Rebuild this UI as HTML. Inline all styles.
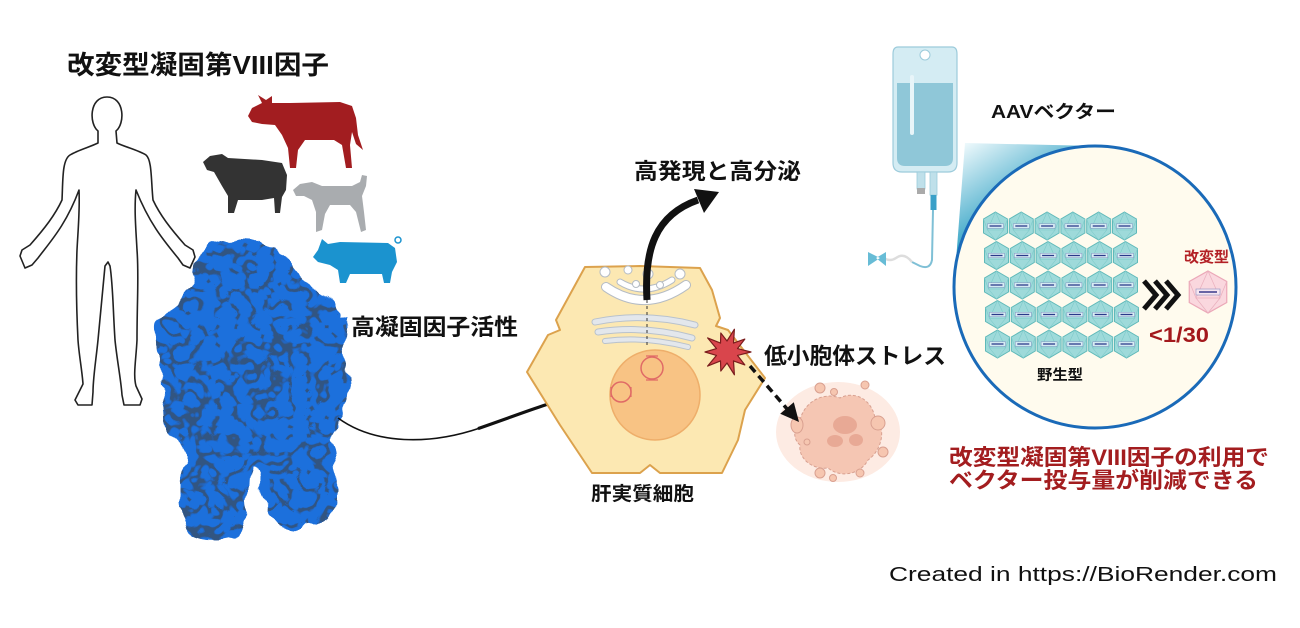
<!DOCTYPE html>
<html><head><meta charset="utf-8">
<style>
html,body{margin:0;padding:0;background:#fff;}
svg{display:block;}
.j{font-family:"Liberation Sans","Noto Sans CJK JP",sans-serif;font-weight:700;}
.r{font-family:"Liberation Sans","Noto Sans CJK JP",sans-serif;font-weight:400;}
</style></head><body>
<svg width="1300" height="628" viewBox="0 0 1300 628" xmlns="http://www.w3.org/2000/svg">
<defs>
  <filter id="prot" x="-15%" y="-15%" width="130%" height="130%">
    <feTurbulence type="fractalNoise" baseFrequency="0.05" numOctaves="2" seed="5" result="n"/>
    <feDisplacementMap in="SourceGraphic" in2="n" scale="16" xChannelSelector="R" yChannelSelector="G" result="disp"/>
    <feTurbulence type="turbulence" baseFrequency="0.055" numOctaves="2" seed="11" result="n2"/>
    <feColorMatrix in="n2" type="matrix" values="0 0 0 0 0.03  0 0 0 0 0.09  0 0 0 0 0.22  -12 0 0 0 2.3" result="d"/>
    <feComposite in="d" in2="disp" operator="in" result="dd"/>
    <feMerge><feMergeNode in="disp"/><feMergeNode in="dd"/></feMerge>
  </filter>
  <linearGradient id="cone" x1="965" y1="143" x2="1010" y2="215" gradientUnits="userSpaceOnUse">
    <stop offset="0" stop-color="#eef9fc"/>
    <stop offset="1" stop-color="#3ea8c8"/>
  </linearGradient>
  <g id="hx">
    <polygon points="0,-14 12,-7 12,7 0,14 -12,7 -12,-7" fill="#9edada" stroke="#5fb9b9" stroke-width="1"/>
    <path d="M0,-14 L-8,4 L8,4 Z M-12,-7 L-8,4 M12,-7 L8,4 M0,14 L-8,4 M0,14 L8,4" stroke="#7fcaca" stroke-width="0.6" fill="none"/>
    <rect x="-8" y="-2.2" width="16" height="4.4" fill="#d9eef4" stroke="#8090c0" stroke-width="0.5"/>
    <line x1="-6" y1="0" x2="6" y2="0" stroke="#2a3a8a" stroke-width="1.3"/>
  </g>
</defs>

<!-- Title -->
<text class="j" x="67" y="74" font-size="26" textLength="262" lengthAdjust="spacingAndGlyphs" fill="#111">改変型凝固第VIII因子</text>

<!-- Human outline -->
<path d="M98,143 L98,131 C89,124 89,97 107,97 C125,97 125,124 116,131 L117,143 C125,147 138,150 146,155 C152,160 151,180 153,200 C160,215 170,228 185,245 L193,250 L195,257 L190,268 L183,265 L178,258 C165,242 150,225 136,190 C134,210 136,230 137,250 C139,275 137,300 137,340 C136,360 133,375 136,386 L142,399 L140,405 L124,405 L122,395 C121,380 117,360 115,340 C113,310 113,285 110,266 L108,262 L105,266 C103,285 101,310 98,340 C96,360 93,378 93,392 L92,405 L78,405 L75,400 L83,384 C82,370 79,355 78,340 C76,300 76,275 77,250 C78,230 80,210 79,190 C66,225 50,242 38,258 L32,265 L25,268 L20,256 L22,250 L30,245 C45,228 55,215 62,200 C63,180 62,160 70,155 C78,150 90,147 98,143 Z" fill="#fff" stroke="#222" stroke-width="1.6" stroke-linejoin="round"/>

<!-- Animals -->
<path d="M248,116 L252,108 L262,103 L258,95 L266,100 L272,96 L272,103 L290,103 L340,102 L352,106 L356,118 L358,135 L363,150 L356,144 L352,132 L350,145 L352,168 L346,168 L342,145 L334,140 L305,140 L298,150 L296,168 L290,168 L288,148 L282,135 L275,125 L262,124 L252,122 Z" fill="#a21d20"/>
<path d="M203,162 L210,156 L222,154 L228,158 L262,160 L282,163 L287,175 L286,190 L282,197 L280,213 L275,213 L274,198 L262,200 L238,200 L234,213 L228,213 L228,196 L222,186 L214,172 L207,170 Z" fill="#333"/>
<path d="M293,190 L300,184 L312,182 L322,186 L352,186 L360,182 L362,175 L367,176 L366,186 L362,196 L364,212 L366,230 L361,232 L356,212 L350,205 L330,205 L325,214 L322,230 L316,232 L316,212 L312,200 L304,196 L296,196 Z" fill="#a9acaf"/>
<path d="M313,257 L318,250 L322,239 L328,244 L340,242 L388,243 L395,248 L397,262 L392,272 L390,283 L384,283 L382,274 L350,274 L346,283 L340,283 L338,270 L330,265 L318,262 Z" fill="#1b93cf"/>
<circle cx="398" cy="240" r="3" fill="none" stroke="#1b93cf" stroke-width="1.5"/>

<!-- Protein -->
<path filter="url(#prot)" d="M200,253 C205,243 230,238 250,240 C265,240 278,248 285,256 C292,265 300,278 315,290 C328,298 338,308 340,318 L348,316 L346,326 C342,340 346,355 348,370 C352,390 350,405 340,420 C333,430 328,437 330,445 C340,460 338,490 334,510 C330,522 320,528 300,528 C280,528 268,520 264,505 C262,490 262,478 258,468 C252,460 252,470 250,485 C248,505 246,525 240,535 C230,542 205,542 192,536 C182,525 178,500 180,480 C182,468 190,460 186,450 C175,440 165,425 165,410 C160,390 162,370 160,355 C155,345 150,330 155,322 C162,315 172,312 178,305 C185,295 192,285 195,275 C196,265 197,258 200,253 Z" fill="#1b6fdc"/>

<text class="j" x="351" y="335" font-size="22.5" textLength="167" lengthAdjust="spacingAndGlyphs" fill="#111">高凝固因子活性</text>

<!-- thin arrow protein -> cell -->
<path d="M338,418 C375,445 430,445 480,428" fill="none" stroke="#111" stroke-width="1.6"/>
<path d="M478,428.6 C520,414 548,403 566,399" fill="none" stroke="#111" stroke-width="3.2"/>
<polygon points="583,392 560.8,390.9 569.2,409.1" fill="#111"/>

<!-- Cell -->
<path d="M585,267 L640,266 L700,268 L712,290 L720,318 L716,326 L728,330 L765,378 L745,410 L738,440 L722,473 L660,473 L650,465 L640,473 L592,473 L560,425 L527,372 L548,335 L560,330 L556,320 Z" fill="#fce8b2" stroke="#dca24d" stroke-width="2" stroke-linejoin="round"/>
<!-- golgi -->
<path d="M606,287 Q645,314 686,285" fill="none" stroke="#b5bcc4" stroke-width="10" stroke-linecap="round"/>
<path d="M606,287 Q645,314 686,285" fill="none" stroke="#fff" stroke-width="8" stroke-linecap="round"/>
<path d="M620,282 Q645,297 672,280" fill="none" stroke="#b5bcc4" stroke-width="7" stroke-linecap="round"/>
<path d="M620,282 Q645,297 672,280" fill="none" stroke="#fff" stroke-width="5" stroke-linecap="round"/>
<g fill="#fff" stroke="#b5bcc4" stroke-width="1">
<circle cx="605" cy="272" r="5"/><circle cx="628" cy="270" r="4"/><circle cx="648" cy="274" r="5"/><circle cx="680" cy="274" r="5"/><circle cx="636" cy="284" r="3.5"/><circle cx="660" cy="285" r="3.5"/>
</g>
<!-- ER -->
<g fill="none" stroke-linecap="round">
<path d="M595,322 Q645,312 695,325" stroke="#b9c2cc" stroke-width="7"/>
<path d="M595,322 Q645,312 695,325" stroke="#e3e7ec" stroke-width="5"/>
<path d="M598,332 Q645,325 692,338" stroke="#b9c2cc" stroke-width="7"/>
<path d="M598,332 Q645,325 692,338" stroke="#e3e7ec" stroke-width="5"/>
<path d="M605,341 Q645,336 688,347" stroke="#b9c2cc" stroke-width="6"/>
<path d="M605,341 Q645,336 688,347" stroke="#e3e7ec" stroke-width="4"/>
</g>
<line x1="647" y1="300" x2="647" y2="345" stroke="#333" stroke-width="1" stroke-dasharray="3 3"/>
<!-- nucleus -->
<circle cx="655" cy="395" r="45" fill="#f8c384" stroke="#eeae6a" stroke-width="1.5"/>
<circle cx="652" cy="368" r="11" fill="none" stroke="#e06a66" stroke-width="1.5"/>
<circle cx="621" cy="392" r="10" fill="none" stroke="#e06a66" stroke-width="1.5"/>
<path d="M646,356 h12 M646,380 h12 M611,387 v10 M631,387 v10" stroke="#e06a66" stroke-width="1.2"/>

<!-- thick arrow up -->
<path d="M647,300 C644,250 655,215 698,200" fill="none" stroke="#111" stroke-width="7"/>
<polygon points="719,192 694,189 704,213" fill="#111"/>
<text class="j" x="634" y="179" font-size="22" textLength="167" lengthAdjust="spacingAndGlyphs" fill="#111">高発現と高分泌</text>

<!-- dying cell -->
<ellipse cx="838" cy="432" rx="62" ry="50" fill="#fdebe3"/>
<path d="M800,420 C805,400 825,392 840,398 C855,390 872,400 875,418 C888,430 880,452 868,460 C860,475 840,478 828,468 C812,470 798,458 800,445 C792,438 794,428 800,420 Z" fill="#f5c6b3" stroke="#d8a090" stroke-width="1" stroke-dasharray="3 2"/>
<ellipse cx="845" cy="425" rx="12" ry="9" fill="#e8a995"/>
<ellipse cx="835" cy="441" rx="8" ry="6" fill="#e8a995"/>
<ellipse cx="856" cy="440" rx="7" ry="6" fill="#e8a995"/>
<g fill="#f6c6b0" stroke="#d9a090" stroke-width="1">
<ellipse cx="797" cy="425" rx="6" ry="8"/>
<circle cx="820" cy="388" r="5"/><circle cx="834" cy="392" r="3.5"/><circle cx="865" cy="385" r="4"/>
<circle cx="878" cy="423" r="7"/><circle cx="883" cy="452" r="5"/><circle cx="860" cy="473" r="4"/>
<circle cx="820" cy="473" r="5"/><circle cx="833" cy="478" r="3.5"/><circle cx="807" cy="442" r="3"/>
</g>

<!-- star -->
<polygon points="751,352 737.5,355.4 744.8,364.9 733.5,360.9 734.4,374.8 727,363 720.8,371 720.5,360.9 707.6,366.1 716.5,355.4 705,352 716.5,348.6 707.6,337.9 720.5,343.1 720.8,333 727,341 734.4,329.2 733.5,343.1 744.8,339.1 737.5,348.6" fill="#d9454c" stroke="#7a1d1d" stroke-width="1.2" stroke-linejoin="round"/>
<text class="j" x="764" y="364" font-size="22.5" textLength="182" lengthAdjust="spacingAndGlyphs" fill="#111">低小胞体ストレス</text>

<!-- dashed arrow -->
<line x1="750" y1="366" x2="788" y2="410" stroke="#111" stroke-width="3.5" stroke-dasharray="8 5"/>
<polygon points="799,422 793.8,402.2 780.2,413.8" fill="#111"/>

<text class="j" x="591" y="500" font-size="19" textLength="103" lengthAdjust="spacingAndGlyphs" fill="#111">肝実質細胞</text>

<!-- IV bag -->
<polygon points="965,143 1095,146 954,287" fill="url(#cone)"/>
<path d="M898,47 L952,47 Q957,47 957,54 L957,163 Q957,172 948,172 L902,172 Q893,172 893,163 L893,54 Q893,47 898,47 Z" fill="#d4ecf3" stroke="#9ccbdb" stroke-width="1.2"/>
<path d="M897,83 L953,83 L953,158 Q953,166 945,166 L905,166 Q897,166 897,158 Z" fill="#8fc7d8"/>
<rect x="910" y="75" width="4" height="60" rx="2" fill="#e8f5f9"/>
<circle cx="925" cy="55" r="5" fill="#fff" stroke="#9ccbdb" stroke-width="1"/>
<rect x="917" y="172" width="8" height="17" fill="#bfe0ea" stroke="#9ccbdb" stroke-width="0.8"/>
<rect x="917" y="188" width="8" height="6" fill="#aaa"/>
<rect x="930" y="172" width="7" height="23" fill="#bfe0ea" stroke="#9ccbdb" stroke-width="0.8"/>
<rect x="930.5" y="195" width="6" height="15" fill="#3aa0c8"/>
<path d="M933,210 L932,260 Q930,270 920,266 L912,262" fill="none" stroke="#7fc0d6" stroke-width="2"/>
<path d="M912,262 Q904,252 896,258 Q890,262 884,258" fill="none" stroke="#ddd" stroke-width="2.5"/>
<path d="M868,252 L880,258 L868,266 Z M886,252 L876,258 L886,266 Z" fill="#67bcd6"/>

<text class="j" x="991" y="118" font-size="18" textLength="125" lengthAdjust="spacingAndGlyphs" fill="#111">AAVベクター</text>

<!-- circle -->
<circle cx="1095" cy="287" r="141" fill="#fffbee" stroke="#1a6ab8" stroke-width="3"/>

<!-- hex grid -->
<g>
<use href="#hx" x="995.5" y="226"/><use href="#hx" x="1021.3" y="226"/><use href="#hx" x="1047.1" y="226"/><use href="#hx" x="1072.9" y="226"/><use href="#hx" x="1098.7" y="226"/><use href="#hx" x="1124.5" y="226"/>
<use href="#hx" x="996.5" y="255.5"/><use href="#hx" x="1022.3" y="255.5"/><use href="#hx" x="1048.1" y="255.5"/><use href="#hx" x="1073.9" y="255.5"/><use href="#hx" x="1099.7" y="255.5"/><use href="#hx" x="1125.5" y="255.5"/>
<use href="#hx" x="996.5" y="285"/><use href="#hx" x="1022.3" y="285"/><use href="#hx" x="1048.1" y="285"/><use href="#hx" x="1073.9" y="285"/><use href="#hx" x="1099.7" y="285"/><use href="#hx" x="1125.5" y="285"/>
<use href="#hx" x="997.5" y="314.5"/><use href="#hx" x="1023.3" y="314.5"/><use href="#hx" x="1049.1" y="314.5"/><use href="#hx" x="1074.9" y="314.5"/><use href="#hx" x="1100.7" y="314.5"/><use href="#hx" x="1126.5" y="314.5"/>
<use href="#hx" x="997.5" y="344"/><use href="#hx" x="1023.3" y="344"/><use href="#hx" x="1049.1" y="344"/><use href="#hx" x="1074.9" y="344"/><use href="#hx" x="1100.7" y="344"/><use href="#hx" x="1126.5" y="344"/>
</g>
<text class="j" x="1037" y="380" font-size="14.5" textLength="46" lengthAdjust="spacingAndGlyphs" fill="#111">野生型</text>

<!-- chevrons -->
<g fill="none" stroke="#111" stroke-width="5" stroke-linejoin="miter">
<polyline points="1144,281 1156,295 1144,309"/>
<polyline points="1155,281 1167,295 1155,309"/>
<polyline points="1166,281 1178,295 1166,309"/>
</g>

<!-- pink hex -->
<g transform="translate(1208,292) scale(1.5)">
<polygon points="0,-14 12.5,-7 12.5,7 0,14 -12.5,7 -12.5,-7" fill="#fad7de" stroke="#eba8b8" stroke-width="0.8"/>
<path d="M0,-14 L-8,4 L8,4 Z M-12.5,-7 L-8,4 M12.5,-7 L8,4 M0,14 L-8,4 M0,14 L8,4" stroke="#eab0be" stroke-width="0.5" fill="none"/>
<rect x="-8" y="-2" width="16" height="4" fill="#f5e6f0" stroke="#9090c0" stroke-width="0.4"/>
<line x1="-6" y1="0" x2="6" y2="0" stroke="#3a3a8a" stroke-width="1"/>
</g>
<text class="j" x="1184" y="262" font-size="15" textLength="45" lengthAdjust="spacingAndGlyphs" fill="#b32025">改変型</text>
<text class="j" x="1149" y="342" font-size="21" textLength="60" lengthAdjust="spacingAndGlyphs" fill="#a3181c">&lt;1/30</text>

<!-- bottom red text -->
<text class="j" x="949" y="465" font-size="22" textLength="320" lengthAdjust="spacingAndGlyphs" fill="#a31d1f">改変型凝固第VIII因子の利用で</text>
<text class="j" x="949" y="488" font-size="22" textLength="309" lengthAdjust="spacingAndGlyphs" fill="#a31d1f">ベクター投与量が削減できる</text>

<text class="r" x="889" y="581" font-size="20" textLength="388" lengthAdjust="spacingAndGlyphs" fill="#111">Created in https://BioRender.com</text>
</svg>
</body></html>
